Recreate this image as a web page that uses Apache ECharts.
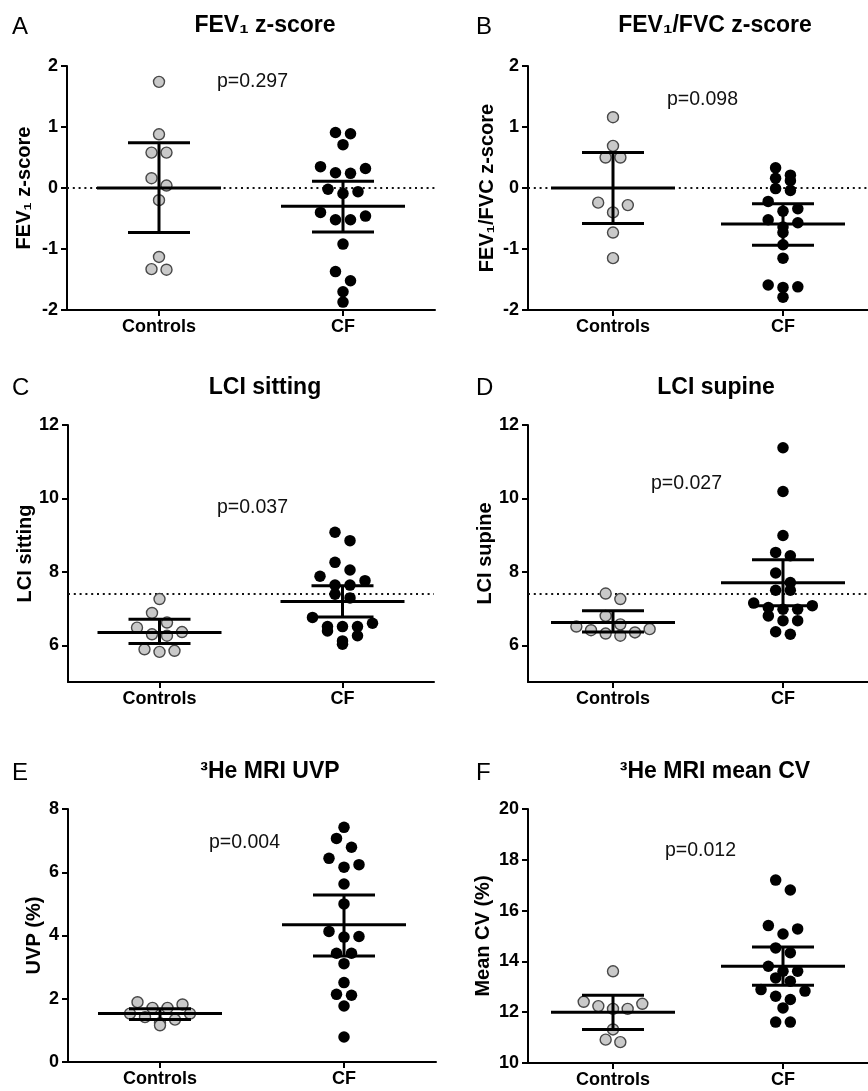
<!DOCTYPE html>
<html>
<head>
<meta charset="utf-8">
<script src="https://cdn.jsdelivr.net/npm/echarts@6/dist/echarts.min.js"></script>
<style>
  html, body { margin: 0; padding: 0; background: #fff; }
  #main { width: 868px; height: 1091px; }
</style>
</head>
<body>
<div id="main"></div>
<script>
// groups on the x axis
var groups = ['Controls', 'CF'];

// A - FEV1 z-score
var fevCtrl = [1.74, 0.88, 0.58, 0.58, 0.16, 0.04, -0.20, -1.13, -1.34, -1.33];
var fevCF = [0.91, 0.89, 0.71, 0.35, 0.32, 0.25, 0.24, -0.02, -0.06, -0.09, -0.40, -0.46, -0.52, -0.52, -0.92, -1.37, -1.52, -1.70, -1.87];
var fevStats = [[0.00, -0.73, 0.74], [-0.30, -0.72, 0.11]]; // mean, lower, upper

// B - FEV1/FVC z-score
var ratioCtrl = [1.16, 0.69, 0.50, 0.50, -0.24, -0.28, -0.40, -0.73, -1.15];
var ratioCF = [0.33, 0.21, 0.16, 0.12, -0.01, -0.04, -0.22, -0.34, -0.38, -0.52, -0.57, -0.64, -0.73, -0.93, -1.15, -1.59, -1.62, -1.63, -1.79];
var ratioStats = [[0.00, -0.58, 0.58], [-0.59, -0.94, -0.26]];

// C - LCI sitting
var sitCtrl = [7.26, 6.88, 6.62, 6.48, 6.36, 6.30, 6.26, 5.89, 5.85, 5.82];
var sitCF = [9.08, 8.85, 8.26, 8.05, 7.88, 7.76, 7.64, 7.64, 7.39, 7.29, 6.76, 6.60, 6.51, 6.51, 6.51, 6.39, 6.26, 6.12, 6.03];
var sitStats = [[6.35, 6.05, 6.71], [7.19, 6.77, 7.62]];

// D - LCI supine
var supCtrl = [7.41, 7.26, 6.80, 6.57, 6.51, 6.44, 6.41, 6.35, 6.32, 6.26];
var supCF = [11.38, 10.19, 8.99, 8.53, 8.44, 7.97, 7.71, 7.50, 7.50, 7.15, 7.08, 7.03, 6.98, 6.98, 6.80, 6.67, 6.67, 6.37, 6.30];
var supStats = [[6.62, 6.36, 6.94], [7.70, 7.08, 8.33]];

// E - 3He MRI UVP
var uvpCtrl = [1.89, 1.82, 1.71, 1.71, 1.53, 1.53, 1.42, 1.34, 1.23, 1.16];
var uvpCF = [7.42, 7.07, 6.79, 6.44, 6.24, 6.16, 5.63, 5.00, 4.13, 3.97, 3.95, 3.44, 3.44, 3.11, 2.51, 2.14, 2.11, 1.77, 0.79];
var uvpStats = [[1.53, 1.34, 1.68], [4.34, 3.35, 5.28]];

// F - 3He MRI mean CV
var cvCtrl = [13.61, 12.41, 12.33, 12.24, 12.13, 12.13, 11.32, 10.92, 10.82];
var cvCF = [17.20, 16.81, 15.41, 15.28, 15.08, 14.53, 14.34, 13.81, 13.61, 13.61, 13.35, 13.22, 12.89, 12.83, 12.63, 12.50, 12.17, 11.61, 11.61];
var cvStats = [[12.00, 11.32, 12.67], [13.81, 13.06, 14.57]];

// texts
var letters = ['A', 'B', 'C', 'D', 'E', 'F'];
var titles = ['FEV\u2081 z-score', 'FEV\u2081/FVC z-score', 'LCI sitting', 'LCI supine', '\u00b3He MRI UVP', '\u00b3He MRI mean CV'];
var yNames = ['FEV\u2081 z-score', 'FEV\u2081/FVC z-score', 'LCI sitting', 'LCI supine', 'UVP (%)', 'Mean CV (%)'];
var pTexts = ['p=0.297', 'p=0.098', 'p=0.037', 'p=0.027', 'p=0.004', 'p=0.012'];

// y axis ranges and tick values
var yMin = [-2, -2, 5, 5, 0, 10];
var yMax = [2, 2, 12, 12, 8, 20];
var yTicks = [[-2, -1, 0, 1, 2], [-2, -1, 0, 1, 2], [6, 8, 10, 12], [6, 8, 10, 12], [0, 2, 4, 6, 8], [10, 12, 14, 16, 18, 20]];
var refLine = [0, 0, 7.4, 7.4, null, null];

(function () {
    var ctrlData = [fevCtrl, ratioCtrl, sitCtrl, supCtrl, uvpCtrl, cvCtrl];
    var cfData = [fevCF, ratioCF, sitCF, supCF, uvpCF, cvCF];
    var stats = [fevStats, ratioStats, sitStats, supStats, uvpStats, cvStats];

    // layout of each panel (pixels)
    var grids = [
        { left: 67, top: 66, width: 368, height: 244 },
        { left: 528, top: 66, width: 344, height: 244 },
        { left: 68, top: 425, width: 366, height: 257 },
        { left: 528, top: 425, width: 348, height: 257 },
        { left: 68, top: 809, width: 368, height: 253 },
        { left: 528, top: 809, width: 348, height: 254 }
    ];
    var nameGaps = [32.5, 30.5, 18.5, 19.5, 23.5, 34.5];
    var titlePos = [[265, 26], [715, 26], [265, 388], [716, 388], [270, 772], [715, 772]];
    var letterPos = [[12, 27], [476, 27], [12, 388], [476, 388], [12, 773], [476, 773]];
    var pPos = [[217, 82], [667, 100], [217, 508], [651, 484], [209, 843], [665, 851]];

    // GraphPad-like column scatter: values close together share a row
    function swarm(vals, cx, g, lo, hi) {
        var ppy = g.height / (hi - lo);
        var ppx = g.width / 2;
        var step = 15;
        var sorted = vals.slice().sort(function (a, b) { return b - a; });
        var rows = [];
        sorted.forEach(function (v) {
            var r = rows[rows.length - 1];
            if (r && (r[0] - v) * ppy < 10) r.push(v);
            else rows.push([v]);
        });
        var out = [];
        rows.forEach(function (r) {
            var n = r.length, a = 0, b = n - 1, left = true, slots = [];
            while (a <= b) {
                slots.push(((left ? a++ : b--) - (n - 1) / 2) * step);
                left = !left;
            }
            r.forEach(function (v, k) { out.push([cx + slots[k] / ppx, v]); });
        });
        return out;
    }

    function errorBars(params, api) {
        var pm = api.coord([api.value(0), api.value(1)]);
        var pl = api.coord([api.value(0), api.value(2)]);
        var ph = api.coord([api.value(0), api.value(3)]);
        var st = { stroke: '#000', lineWidth: 3 };
        var W = 62, C = 31;
        return {
            type: 'group',
            children: [
                { type: 'line', shape: { x1: pm[0] - W, y1: pm[1], x2: pm[0] + W, y2: pm[1] }, style: st },
                { type: 'line', shape: { x1: ph[0], y1: ph[1], x2: pl[0], y2: pl[1] }, style: st },
                { type: 'line', shape: { x1: ph[0] - C, y1: ph[1], x2: ph[0] + C, y2: ph[1] }, style: st },
                { type: 'line', shape: { x1: pl[0] - C, y1: pl[1], x2: pl[0] + C, y2: pl[1] }, style: st }
            ]
        };
    }

    var font = '"Liberation Sans", Arial, Helvetica, sans-serif';
    var option = { animation: false, grid: [], xAxis: [], yAxis: [], series: [], graphic: [] };

    for (var i = 0; i < 6; i++) {
        option.grid.push(grids[i]);
        option.xAxis.push({
            gridIndex: i, type: 'value', min: 0, max: 2,
            axisLine: { show: true, onZero: false, lineStyle: { color: '#000', width: 2 } },
            axisTick: { show: true, customValues: [0.5, 1.5], length: 6, lineStyle: { color: '#000', width: 2 } },
            axisLabel: {
                customValues: [0.5, 1.5], margin: 8,
                color: '#000', fontWeight: 'bold', fontSize: 18, fontFamily: font,
                formatter: function (v) { return v < 1 ? groups[0] : groups[1]; }
            },
            splitLine: { show: false }
        });
        option.yAxis.push({
            gridIndex: i, type: 'value', min: yMin[i], max: yMax[i],
            name: yNames[i], nameLocation: 'middle', nameGap: nameGaps[i], nameRotate: 90,
            nameTextStyle: { color: '#000', fontWeight: 'bold', fontSize: 20, fontFamily: font },
            axisLine: { show: true, onZero: false, lineStyle: { color: '#000', width: 2 } },
            axisTick: { show: true, customValues: yTicks[i], length: 6, lineStyle: { color: '#000', width: 2 } },
            axisLabel: { customValues: yTicks[i], margin: 9, color: '#000', fontWeight: 'bold', fontSize: 18, fontFamily: font },
            splitLine: { show: false }
        });

        var ctrl = {
            type: 'scatter', xAxisIndex: i, yAxisIndex: i, z: 3,
            symbolSize: 11,
            itemStyle: { color: '#c9c9c9', borderColor: '#484848', borderWidth: 1.4, opacity: 1 },
            data: swarm(ctrlData[i], 0.5, grids[i], yMin[i], yMax[i])
        };
        if (refLine[i] !== null) {
            ctrl.markLine = {
                silent: true, symbol: ['none', 'none'], label: { show: false }, z: 1,
                lineStyle: { color: '#111', width: 2.2, type: [2, 3.8] },
                data: [{ yAxis: refLine[i] }]
            };
        }
        option.series.push(ctrl);
        option.series.push({
            type: 'scatter', xAxisIndex: i, yAxisIndex: i, z: 3,
            symbolSize: 11.5,
            itemStyle: { color: '#000', opacity: 1 },
            data: swarm(cfData[i], 1.5, grids[i], yMin[i], yMax[i])
        });
        option.series.push({
            type: 'custom', xAxisIndex: i, yAxisIndex: i, z: 5,
            renderItem: errorBars,
            encode: { x: 0, y: [1, 2, 3] },
            data: [[0.5].concat(stats[i][0]), [1.5].concat(stats[i][1])]
        });

        option.graphic.push({
            type: 'text', x: titlePos[i][0], y: titlePos[i][1],
            style: { text: titles[i], fill: '#000', font: 'bold 23px ' + font, textAlign: 'center', textVerticalAlign: 'middle' }
        });
        option.graphic.push({
            type: 'text', x: letterPos[i][0], y: letterPos[i][1],
            style: { text: letters[i], fill: '#000', font: '24px ' + font, textAlign: 'left', textVerticalAlign: 'middle' }
        });
        option.graphic.push({
            type: 'text', x: pPos[i][0], y: pPos[i][1],
            style: { text: pTexts[i], fill: '#111', font: '19.5px ' + font, textAlign: 'left', textVerticalAlign: 'middle' }
        });
    }

    var myChart = echarts.init(document.querySelector('#main'));
    myChart.setOption(option);
    window.addEventListener('resize', function () {
        myChart.resize();
    });
})();
</script>
</body>
</html>
